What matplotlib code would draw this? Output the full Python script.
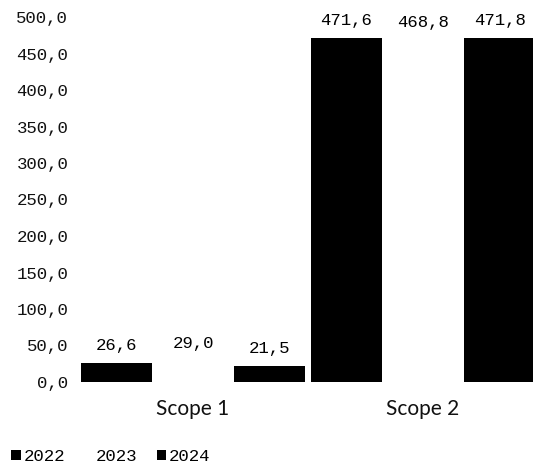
import matplotlib
matplotlib.use("Agg")
import matplotlib.pyplot as plt
from matplotlib.ticker import FuncFormatter, MultipleLocator
import numpy as np

categories = ["Scope 1", "Scope 2"]
years = ["2022", "2023", "2024"]
values_2022 = [26.6, 471.6]
values_2023 = [29.0, 468.8]
values_2024 = [21.5, 471.8]
series = [values_2022, values_2023, values_2024]
colors = ["#000000", "#ffffff", "#000000"]

W, H = 533, 466
dpi = 100
fig = plt.figure(figsize=(W / dpi, H / dpi), dpi=dpi)
left_px, right_px = 78, 538
bottom_px, top_px = 382, 17
ax = fig.add_axes([left_px / W, (H - bottom_px) / H,
                   (right_px - left_px) / W, (bottom_px - top_px) / H])

mono = "Liberation Mono"
x = np.arange(len(categories))
step = 0.333
width = 0.31
bars = []
for i, (vals, col, yr) in enumerate(zip(series, colors, years)):
    b = ax.bar(x + (i - 1) * step, vals, width, color=col, label=yr)
    bars.append(b)
    for rect, v in zip(b, vals):
        ax.annotate(f"{v:.1f}".replace(".", ","),
                    (rect.get_x() + rect.get_width() / 2, rect.get_height()),
                    xytext=(0, 12.5), textcoords="offset points",
                    ha="center", va="center", fontsize=12.5,
                    family=mono, color="#000000")

ax.set_xlim(-0.5, 1.5)
ax.set_ylim(0, 500)
ax.yaxis.set_major_locator(MultipleLocator(50))
ax.yaxis.set_major_formatter(FuncFormatter(lambda v, p: f"{v:.1f}".replace(".", ",")))
ax.set_xticks(x)
ax.set_xticklabels(categories, fontsize=15, family="Lato", color="#111111")
for lbl in ax.get_yticklabels():
    lbl.set_family(mono)
    lbl.set_fontsize(12.5)
    lbl.set_color("#111111")
ax.tick_params(axis="both", length=0)
ax.tick_params(axis="y", pad=7)
ax.tick_params(axis="x", pad=12)
for s in ax.spines.values():
    s.set_visible(False)

fig.legend(handles=bars, labels=years, loc="lower left",
           bbox_to_anchor=(0.018, 0.0), ncol=3, frameon=False,
           prop={"family": mono, "size": 12.5},
           handlelength=0.55, handleheight=0.55, handletextpad=0.15,
           columnspacing=1.1, borderaxespad=0.0, borderpad=0.1)

fig.savefig("out.png", dpi=dpi)
